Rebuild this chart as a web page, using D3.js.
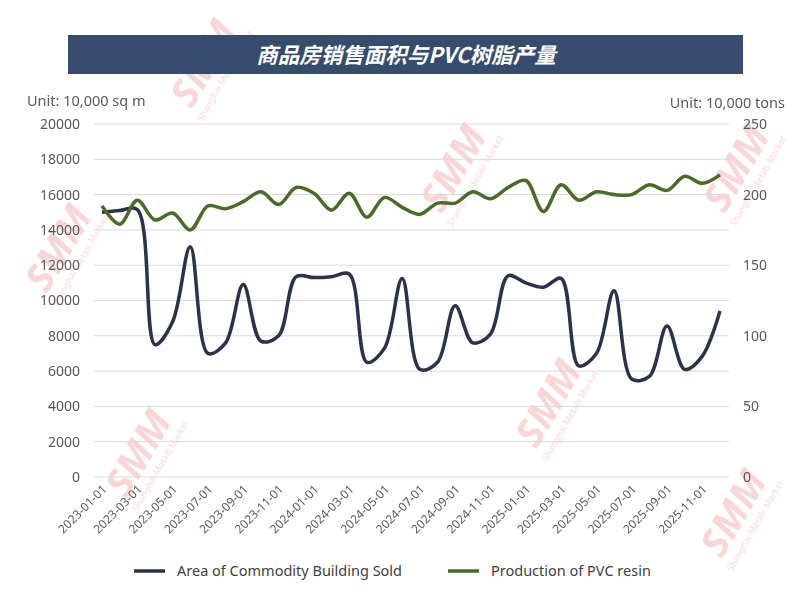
<!DOCTYPE html>
<html>
<head>
<meta charset="utf-8">
<script src="https://cdn.jsdelivr.net/npm/d3@7"></script>
<style>
  body { margin: 0; background: #fff; }
  text { font-family: "Noto Sans", "Open Sans", sans-serif; }
</style>
</head>
<body>
<div id="chart"></div>
<script>
// monthly data, 2023-01 .. 2025-12
const months = [
  "2023-01-01", "2023-02-01", "2023-03-01", "2023-04-01", "2023-05-01", "2023-06-01",
  "2023-07-01", "2023-08-01", "2023-09-01", "2023-10-01", "2023-11-01", "2023-12-01",
  "2024-01-01", "2024-02-01", "2024-03-01", "2024-04-01", "2024-05-01", "2024-06-01",
  "2024-07-01", "2024-08-01", "2024-09-01", "2024-10-01", "2024-11-01", "2024-12-01",
  "2025-01-01", "2025-02-01", "2025-03-01", "2025-04-01", "2025-05-01", "2025-06-01",
  "2025-07-01", "2025-08-01", "2025-09-01", "2025-10-01", "2025-11-01", "2025-12-01"
];
// Area of commodity building sold, 10,000 sq m (left axis)
const areaSold = [
  15000, 15100, 15150, 7500, 8800, 13050, 7000, 7600, 10900, 7700, 8000, 11350,
  11300, 11350, 11500, 6500, 7300, 11250, 6100, 6500, 9700, 7600, 8100, 11400,
  11000, 10750, 11250, 6300, 7000, 10550, 5550, 5700, 8550, 6100, 6850, 9400
];
// Production of PVC resin, 10,000 tons (right axis)
const pvcOutput = [
  192, 179, 196, 182, 187, 175, 192, 190, 195, 202, 193, 205,
  201, 189, 201, 184, 198, 191, 186, 194, 194, 202, 197, 205,
  210, 188, 207, 196, 202, 200, 200, 207, 203, 213, 208, 214
];
const leftTicks = [0, 2000, 4000, 6000, 8000, 10000, 12000, 14000, 16000, 18000, 20000];
const rightTicks = [0, 50, 100, 150, 200, 250];
const seriesNames = ["Area of Commodity Building Sold", "Production of PVC resin"];
const seriesColors = ["#2b3249", "#4a6b28"];

const W = 796, H = 598;
const plot = { left: 94, right: 729, top: 124, bottom: 477 };

const svg = d3.select("#chart").append("svg")
  .attr("width", W).attr("height", H);

// SMM watermarks (drawn first, under everything)
const marks = [[215, 70], [465, 175], [70, 255], [150, 460], [560, 410], [748, 175], [745, 520]];
const wm = svg.append("g").attr("opacity", 0.2).style("pointer-events", "none")
  .selectAll("g").data(marks).join("g")
  .attr("transform", (d) => `translate(${d[0]},${d[1]})rotate(-60)`);
wm.append("text")
  .attr("text-anchor", "middle")
  .attr("fill", "#e0303a")
  .style("font-size", "40px").style("font-weight", "bold").style("font-style", "italic")
  .text("SMM");
wm.append("text")
  .attr("text-anchor", "middle").attr("y", 15)
  .attr("fill", "#e0303a")
  .style("font-size", "9px")
  .text("Shanghai Metals Market");

// title bar
svg.append("rect")
  .attr("x", 68).attr("y", 35).attr("width", 675).attr("height", 39)
  .attr("fill", "#374c6c");
svg.append("text")
  .attr("x", 406).attr("y", 63)
  .attr("text-anchor", "middle")
  .attr("fill", "#fff")
  .style("font-size", "21.5px")
  .style("font-style", "italic")
  .style("font-weight", "bold")
  .style("font-family", "'Noto Sans CJK SC', sans-serif")
  .text("商品房销售面积与PVC树脂产量");

// scales
const x = d3.scalePoint().domain(months).range([102, 720]);
const yL = d3.scaleLinear().domain([0, 20000]).range([plot.bottom, plot.top]);
const yR = d3.scaleLinear().domain([0, 250]).range([plot.bottom, plot.top]);

// gridlines
svg.append("g")
  .selectAll("line")
  .data(leftTicks)
  .join("line")
  .attr("x1", plot.left).attr("x2", plot.right)
  .attr("y1", (d) => yL(d)).attr("y2", (d) => yL(d))
  .attr("stroke", "#d9d9d9").attr("stroke-width", 1);

// left axis
const gL = svg.append("g")
  .attr("transform", `translate(${plot.left},0)`)
  .call(d3.axisLeft(yL).tickValues(leftTicks).tickSize(0).tickPadding(14).tickFormat(d3.format("d")));
gL.select(".domain").remove();
gL.selectAll("text").attr("fill", "#595959").style("font-size", "14px");

// right axis
const gR = svg.append("g")
  .attr("transform", `translate(${plot.right},0)`)
  .call(d3.axisRight(yR).tickValues(rightTicks).tickSize(0).tickPadding(14));
gR.select(".domain").remove();
gR.selectAll("text").attr("fill", "#595959").style("font-size", "14px");

// unit labels
svg.append("text").attr("x", 27).attr("y", 106)
  .attr("fill", "#595959").style("font-size", "14.5px")
  .text("Unit: 10,000 sq m");
svg.append("text").attr("x", 785).attr("y", 108)
  .attr("text-anchor", "end")
  .attr("fill", "#595959").style("font-size", "14.5px")
  .text("Unit: 10,000 tons");

// x axis labels, every other month
const xTicks = months.filter((d, i) => i % 2 === 0);
const gX = svg.append("g")
  .attr("transform", `translate(0,${plot.bottom})`)
  .call(d3.axisBottom(x).tickValues(xTicks).tickSize(0).tickPadding(0));
gX.select(".domain").remove();
gX.selectAll("text")
  .attr("fill", "#595959")
  .style("font-size", "12px")
  .attr("dy", 0)
  .attr("y", 0)
  .style("text-anchor", "end")
  .attr("transform", "translate(5,13)rotate(-45)");

// lines
const lineL = d3.line()
  .x((d, i) => x(months[i]))
  .y((d) => yL(d))
  .curve(d3.curveCatmullRom.alpha(0.5));
const lineR = d3.line()
  .x((d, i) => x(months[i]))
  .y((d) => yR(d))
  .curve(d3.curveCatmullRom.alpha(0.5));

svg.append("path").datum(areaSold)
  .attr("d", lineL)
  .attr("fill", "none")
  .attr("stroke", seriesColors[0])
  .attr("stroke-width", 3.5)
  .attr("stroke-linejoin", "round");
svg.append("path").datum(pvcOutput)
  .attr("d", lineR)
  .attr("fill", "none")
  .attr("stroke", seriesColors[1])
  .attr("stroke-width", 3.5)
  .attr("stroke-linejoin", "round");

// legend
const legendX = [134, 448];
const lg = svg.append("g")
  .selectAll("g")
  .data(seriesNames)
  .join("g")
  .attr("transform", (d, i) => `translate(${legendX[i]},571)`);
lg.append("line")
  .attr("x1", 0).attr("x2", 31).attr("y1", 0).attr("y2", 0)
  .attr("stroke", (d, i) => seriesColors[i]).attr("stroke-width", 3.5);
lg.append("text")
  .attr("x", 43).attr("y", 5)
  .attr("fill", "#404040").style("font-size", "14.5px")
  .text((d) => d);
</script>
</body>
</html>
